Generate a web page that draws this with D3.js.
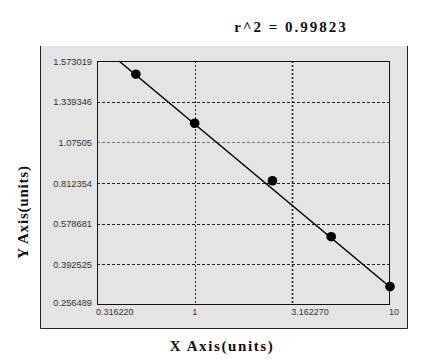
<!DOCTYPE html>
<html>
<head>
<meta charset="utf-8">
<script src="https://cdn.jsdelivr.net/npm/d3@7"></script>
<style>
body { margin:0; background:#fff; }
svg text { font-family: "Liberation Sans", Arial, sans-serif; }
.ttl { font-family: "Liberation Serif", "DejaVu Serif", serif !important; font-weight: bold; }
</style>
</head>
<body>
<div id="chart"></div>
<script>
// standard curve values
let xTicks = [0.316228, 1, 3.16227, 10];
let xTickLabels = ["0.316220", "1", "3.162270", "10"];
let yTicks = [1.573019, 1.339346, 1.07505, 0.812354, 0.578681, 0.392525, 0.256489];
let ptX = [0.5, 1, 2.5, 5, 10];
let ptY = [1.497, 1.199, 0.827, 0.519, 0.318];
let fitX = [0.41, 10];
let fitY = [1.573019, 0.3166];
let r2 = "0.99823";

var W = 440, H = 361;
var svg = d3.select("#chart").append("svg").attr("width", W).attr("height", H);

// grey panel
svg.append("rect").attr("x",40).attr("y",46).attr("width",368).attr("height",283)
  .attr("fill","#e4e4e4");
svg.append("path").attr("d","M40.5,46 V328.5 H407.5 V46")
  .attr("fill","none").attr("stroke","#222").attr("stroke-width",1);

var pL = 97, pR = 390, pT = 61, pB = 305;

var x = d3.scaleLog().domain([xTicks[0], xTicks[3]]).range([pL, pR]);
// tick labels sit at equal steps, so map them piecewise (ascending domain)
var yAsc = yTicks.slice().reverse();
var y = d3.scaleLinear().domain(yAsc)
  .range(yAsc.map((d,i)=> pB - i*(pB-pT)/(yAsc.length-1)));

// grid
svg.append("g").selectAll("line").data(yTicks.slice(1,-1)).join("line")
  .attr("x1",pL).attr("x2",pR)
  .attr("y1",d=>Math.round(y(d))+0.5).attr("y2",d=>Math.round(y(d))+0.5)
  .attr("stroke",(d,i)=> i==1 ? "#777" : "#222").attr("stroke-width",1)
  .attr("stroke-dasharray","3,2");
svg.append("g").selectAll("line").data(xTicks.slice(1,-1)).join("line")
  .attr("x1",d=>Math.round(x(d))+0.5).attr("x2",d=>Math.round(x(d))+0.5)
  .attr("y1",pT).attr("y2",pB)
  .attr("stroke","#222").attr("stroke-width",(d,i)=> i==1 ? 1.6 : 1)
  .attr("stroke-dasharray","2,2");

// plot frame
svg.append("rect").attr("x",pL+0.5).attr("y",pT+0.5)
  .attr("width",pR-pL-1).attr("height",pB-pT-1)
  .attr("fill","none").attr("stroke","#111").attr("stroke-width",1);

// y labels
svg.append("g").selectAll("text").data(yTicks).join("text")
  .attr("x",92).attr("y",(d,i)=> i==yTicks.length-1 ? y(d)+1 : y(d)+3.5)
  .attr("text-anchor","end").attr("font-size",9.3).attr("fill","#333")
  .text(d=>d);

// x labels
svg.append("g").selectAll("text").data(xTicks).join("text")
  .attr("x",(d,i)=> i==1 ? x(d) : x(d)-1).attr("y",314.5)
  .attr("text-anchor",(d,i)=> i==1 ? "middle" : "start")
  .attr("font-size",9).attr("fill","#333")
  .text((d,i)=>xTickLabels[i]);

// fit line
var line = d3.line().x(d=>x(d[0])).y(d=>y(d[1]));
svg.append("path").datum(fitX.map((d,i)=>[d,fitY[i]]))
  .attr("d",line).attr("fill","none").attr("stroke","#000").attr("stroke-width",1.5);

// points
svg.append("g").selectAll("circle").data(ptX).join("circle")
  .attr("cx",d=>x(d)).attr("cy",(d,i)=>y(ptY[i])).attr("r",4.8).attr("fill","#000");

// titles
svg.append("text").attr("class","ttl").attr("x",291).attr("y",32)
  .attr("text-anchor","middle").attr("font-size",15).attr("letter-spacing",2)
  .attr("fill","#111").text("r^2  =  " + r2);
svg.append("text").attr("class","ttl").attr("x",222).attr("y",351)
  .attr("text-anchor","middle").attr("font-size",15).attr("letter-spacing",1.6)
  .attr("fill","#111").text("X Axis(units)");
svg.append("text").attr("class","ttl")
  .attr("transform","translate(28,212) rotate(-90)")
  .attr("text-anchor","middle").attr("font-size",15).attr("letter-spacing",0.8)
  .attr("fill","#111").text("Y Axis(units)");
</script>
</body>
</html>
